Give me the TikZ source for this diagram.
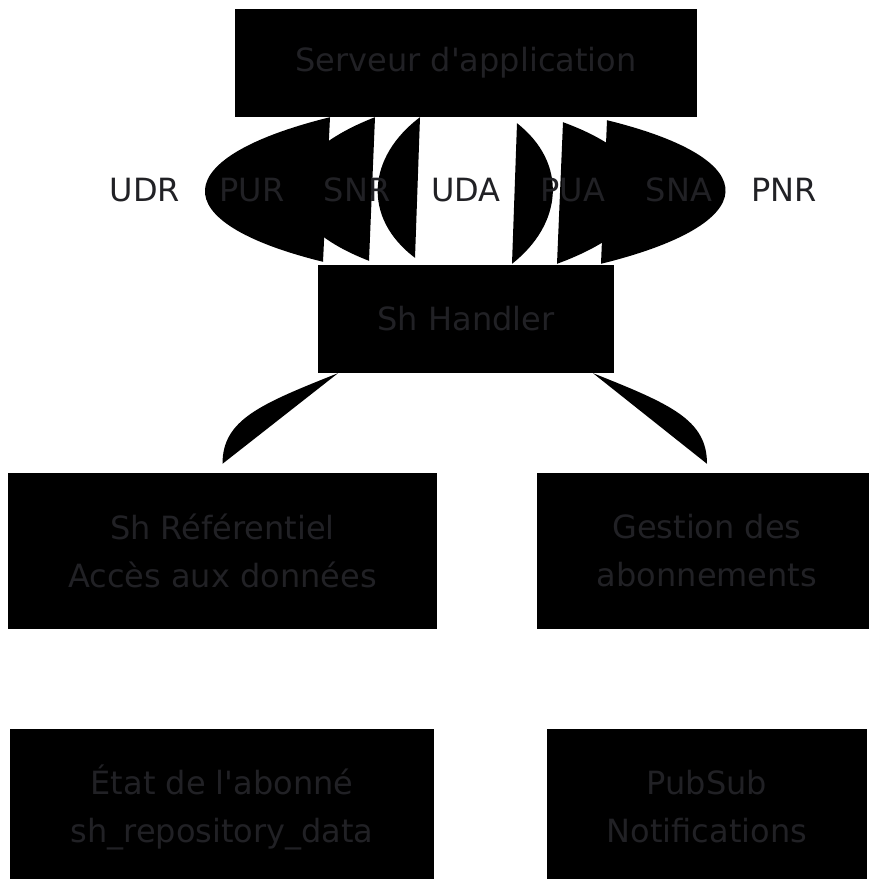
\documentclass[tikz,border=0pt]{standalone}
\usepackage{fontspec}
\setmainfont[Ligatures=TeXOff]{DejaVu Sans}
\definecolor{txt}{RGB}{33,33,37}
\begin{document}
\begin{tikzpicture}[x=1pt, y=-1pt,
  box/.style={fill=black, text=txt, inner sep=0pt, align=center, font=\fontsize{32}{48}\selectfont},
  lbl/.style={text=txt, inner sep=0pt, font=\fontsize{32}{48}\selectfont},
  flow/.style={fill=black}]
\useasboundingbox (0,0) rectangle (869,879);

\node[box, minimum width=462, minimum height=108] (srv) at (466,63) {Serveur d'application};
\node[box, minimum width=296, minimum height=108] (hdl) at (466,319) {Sh Handler};
\node[box, minimum width=429, minimum height=156] (ref) at (222.5,551) {Sh Référentiel\\Accès aux données};
\node[box, minimum width=340, minimum height=156] (gest) at (707,551) {Gestion des\\abonnements};
\node[box, minimum width=424, minimum height=156] (etat) at (222,807) {État de l'abonné\\sh\_repository\_data};
\node[box, minimum width=320, minimum height=156] (pubsub) at (707,807) {PubSub\\Notifications};

\fill[flow] ([xshift=-136pt]srv.south) .. controls +(-162,40) and +(-162,-40) .. ([xshift=-143pt,yshift=3pt]hdl.north) -- cycle;
\fill[flow] ([xshift=-91pt]srv.south) .. controls +(-103,40) and +(-103,-40) .. ([xshift=-97pt,yshift=4pt]hdl.north) -- cycle;
\fill[flow] ([xshift=-46pt]srv.south) .. controls +(-53,40) and +(-53,-40) .. ([xshift=-51pt,yshift=7pt]hdl.north) -- cycle;

\fill[flow] ([xshift=51pt,yshift=-6pt]srv.south) .. controls +(51,40) and +(51,-40) .. ([xshift=46pt,yshift=1pt]hdl.north) -- cycle;
\fill[flow] ([xshift=97pt,yshift=-5pt]srv.south) .. controls +(109,40) and +(109,-40) .. ([xshift=91pt,yshift=1pt]hdl.north) -- cycle;
\fill[flow] ([xshift=141pt,yshift=-3pt]srv.south) .. controls +(162,40) and +(162,-40) .. ([xshift=135pt,yshift=1pt]hdl.north) -- cycle;

\fill[flow] ([xshift=-128pt]hdl.south) .. controls +(-78,31) and +(0,-44) .. ([yshift=9pt]ref.north) -- cycle;
\fill[flow] ([xshift=127pt]hdl.south) .. controls +(78,31) and +(0,-44) .. ([yshift=9pt]gest.north) -- cycle;

\node[lbl] (udr) at (145,190) {UDR};
\node[lbl] (pur) at (252,190) {PUR};
\node[lbl] (snr) at (357,190) {SNR};
\node[lbl] (uda) at (466,190) {UDA};
\node[lbl] (pua) at (573,190) {PUA};
\node[lbl] (sna) at (679,190) {SNA};
\node[lbl] (pnr) at (784,190) {PNR};

\end{tikzpicture}
\end{document}
